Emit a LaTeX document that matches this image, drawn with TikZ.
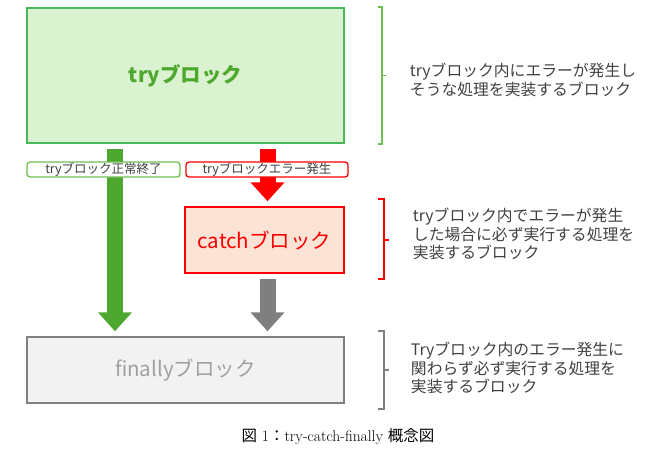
\documentclass[tikz,border=0pt]{standalone}
\usepackage{fontspec}
\newfontfamily\jpfont{Noto Sans CJK JP}
\usetikzlibrary{arrows.meta,positioning,calc}
\definecolor{tryfill}{HTML}{DAF2D0}
\definecolor{tryline}{HTML}{47B95A}
\definecolor{okgreen}{HTML}{4EA72E}
\definecolor{taggreen}{HTML}{6CBF4F}
\definecolor{catchfill}{HTML}{FBE3D6}
\definecolor{errred}{HTML}{FF0000}
\definecolor{finfill}{HTML}{F2F2F2}
\definecolor{finline}{HTML}{808080}
\definecolor{fintext}{HTML}{A0A0A0}
\definecolor{arrgray}{HTML}{7F7F7F}
\definecolor{txtgray}{HTML}{404040}
\tikzset{
  block/.style={draw,line width=1.5pt,inner sep=0pt,minimum width=317pt,minimum height=66pt},
  bigtext/.style={font=\jpfont\fontsize{20.5}{24}\selectfont},
  tag/.style={draw,rounded corners=3pt,fill=white,line width=1.3pt,inner sep=0pt,minimum height=15pt,
    font=\jpfont\fontsize{12.5}{14}\selectfont,text=txtgray},
  flow/.style={line width=16pt,-{Triangle[length=19pt,width=33pt]},shorten <=5pt,shorten >=5pt},
  bracket/.style={line width=1.6pt},
  note/.style={align=left,inner sep=0pt,font=\jpfont\fontsize{15.8}{18.5}\selectfont,text=txtgray}
}
\begin{document}
\begin{tikzpicture}[x=1pt,y=-1pt]
  \useasboundingbox (0,0) rectangle (670,453);
  \node[block, minimum height=135pt, fill=tryfill, draw=tryline, text=okgreen, bigtext] (try) at (185.5,75.5) {\bfseries tryブロック};
  \node[block, minimum width=159pt, fill=catchfill, draw=errred, text=errred, bigtext] (catch) at (264.5,240) {catchブロック};
  \node[block, fill=finfill, draw=finline, text=fintext, bigtext] (fin) at (185.5,370) {finallyブロック};
  \draw[flow, okgreen] ([xshift=-70.5pt]try.south) -- ([xshift=-70.5pt]fin.north);
  \draw[flow, errred] ([xshift=82pt]try.south) -- ([xshift=3pt]catch.north);
  \draw[flow, arrgray] ([xshift=3pt]catch.south) -- ([xshift=82pt]fin.north);
  \node[tag, draw=taggreen, minimum width=153pt] (okL) at (103.5,169.5) {tryブロック正常終了};
  \node[tag, draw=errred, minimum width=162pt] (errL) at (267,169.5) {tryブロックエラー発生};
  \draw[bracket, taggreen] ([xshift=33pt]try.north east) -- ++(4,0) |- ([xshift=33pt]try.south east);
  \draw[bracket, taggreen] ([xshift=37pt]try.east) -- ++(4,0);
  \draw[bracket, errred] ([xshift=33pt,yshift=7pt]catch.north east) -- ++(6,0) |- ([xshift=33pt,yshift=-5pt]catch.south east);
  \draw[bracket, errred] ([xshift=39pt]catch.east) -- ++(5,0);
  \draw[bracket, finline] ([xshift=33pt,yshift=5pt]fin.north east) -- ++(6,0) |- ([xshift=33pt,yshift=-5pt]fin.south east);
  \draw[bracket, finline] ([xshift=39pt]fin.east) -- ++(5,0);
  \node[note, right=65pt of try, yshift=-4.5pt] (tryN) {tryブロック内にエラーが発生し\\そうな処理を実装するブロック};
  \node[note, right=68pt of catch, yshift=6pt] (catchN) {tryブロック内でエラーが発生\\した場合に必ず実行する処理を\\実装するブロック};
  \node[note, right=66pt of fin, yshift=2pt] (finN) {Tryブロック内のエラー発生に\\関わらず必ず実行する処理を\\実装するブロック};
  \node[font=\fontsize{15.5}{18}\selectfont] (cap) at (338,437) {{\jpfont 図} 1{\jpfont ：}try-catch-finally {\jpfont 概念図}};
\end{tikzpicture}
\end{document}
